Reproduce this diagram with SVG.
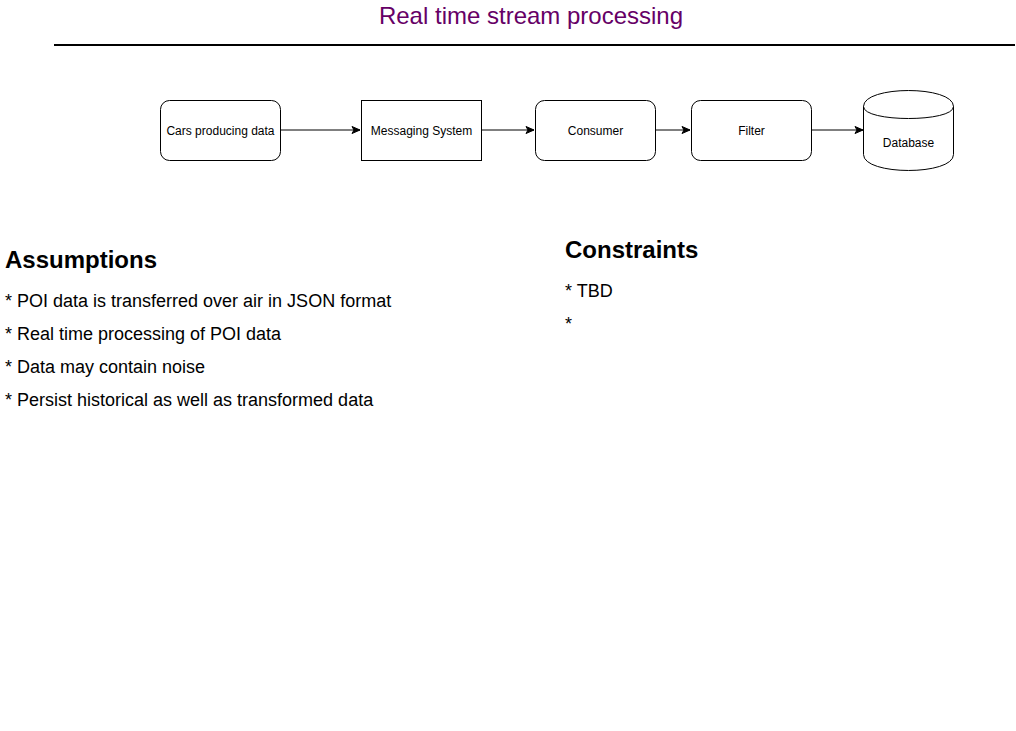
<svg xmlns="http://www.w3.org/2000/svg" width="1016" height="731" viewBox="0 0 1016 731">
<style>
text{font-family:"Liberation Sans",Arial,Helvetica,sans-serif;fill:#000}
.node{fill:#fff;stroke:#000;stroke-width:1}
.lbl{font-size:12px;text-anchor:middle;dominant-baseline:central}
.edge{fill:none;stroke:#000;stroke-width:1}
.h{font-size:24px;font-weight:bold}
.item{font-size:18px}
</style>
<defs>
<marker id="arr" viewBox="0 0 10 10" refX="9" refY="5" markerWidth="10" markerHeight="10" markerUnits="userSpaceOnUse" orient="auto">
<path d="M1,1.5 L9,5 L1,8.5 L3,5 Z" fill="#000" stroke="#000" stroke-width="1"/>
</marker>
</defs>
<rect width="1016" height="731" fill="#fff"/>
<g id="title">
<text x="531" y="24" font-size="24" text-anchor="middle" style="fill:#660066">Real time stream processing</text>
<line x1="54" y1="45" x2="1015" y2="45" stroke="#000" stroke-width="2"/>
</g>
<g id="connectors">
<line class="edge" x1="280" y1="130" x2="360" y2="130" marker-end="url(#arr)"/>
<line class="edge" x1="481" y1="130" x2="534" y2="130" marker-end="url(#arr)"/>
<line class="edge" x1="655" y1="130" x2="690" y2="130" marker-end="url(#arr)"/>
<line class="edge" x1="811" y1="130" x2="863" y2="130" marker-end="url(#arr)"/>
</g>
<g id="cars">
<rect class="node" x="160.5" y="100.5" width="120" height="60" rx="9"/>
<text class="lbl" x="220.5" y="130.5">Cars producing data</text>
</g>
<g id="messaging">
<rect class="node" x="361.5" y="100.5" width="120" height="60"/>
<text class="lbl" x="421.5" y="130.5">Messaging System</text>
</g>
<g id="consumer">
<rect class="node" x="535.5" y="100.5" width="120" height="60" rx="9"/>
<text class="lbl" x="595.5" y="130.5">Consumer</text>
</g>
<g id="filter">
<rect class="node" x="691.5" y="100.5" width="120" height="60" rx="9"/>
<text class="lbl" x="751.5" y="130.5">Filter</text>
</g>
<g id="database">
<path class="node" d="M863.5,106.5 C863.5,85.2 953.5,85.2 953.5,106.5 L953.5,154.5 C953.5,175.8 863.5,175.8 863.5,154.5 Z"/>
<path class="edge" d="M863.5,106.5 C863.5,122.5 953.5,122.5 953.5,106.5"/>
<text class="lbl" x="908.5" y="142.5">Database</text>
</g>
<g id="assumptions">
<text class="h" x="5" y="268">Assumptions</text>
<text class="item" x="5" y="307">* POI data is transferred over air in JSON format</text>
<text class="item" x="5" y="340">* Real time processing of POI data</text>
<text class="item" x="5" y="373">* Data may contain noise</text>
<text class="item" x="5" y="406">* Persist historical as well as transformed data</text>
</g>
<g id="constraints">
<text class="h" x="565" y="258">Constraints</text>
<text class="item" x="565" y="297">* TBD</text>
<text class="item" x="565" y="330">*</text>
</g>
</svg>
